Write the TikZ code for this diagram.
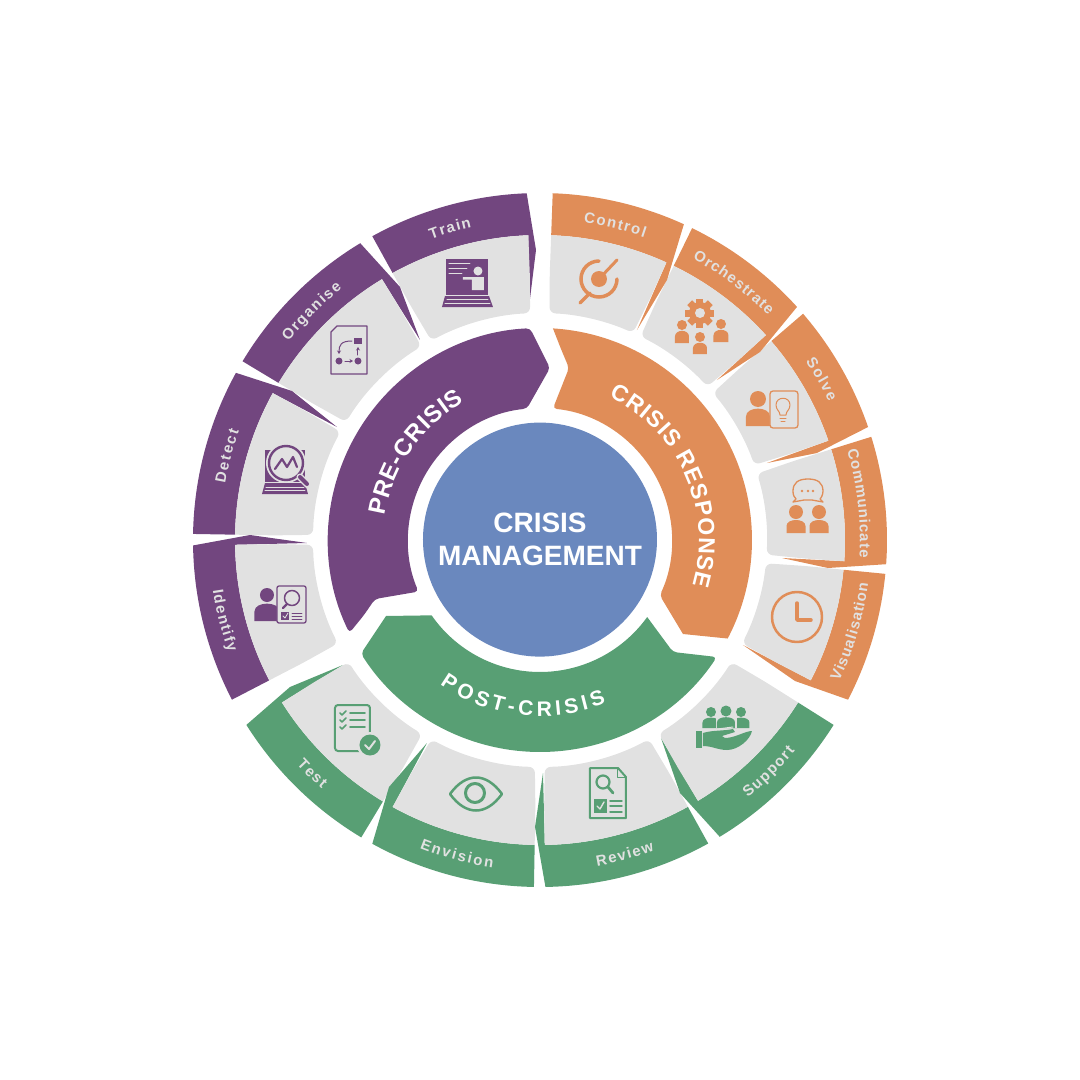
\documentclass[tikz,border=0pt]{standalone}
\usepackage{fontspec}
\setmainfont{Liberation Sans}
\usetikzlibrary{decorations.text,arrows.meta}

\definecolor{precrisis}{HTML}{72467F}
\definecolor{response}{HTML}{E08D58}
\definecolor{postcrisis}{HTML}{589F74}
\definecolor{hubblue}{HTML}{6A88BE}
\definecolor{tilegrey}{HTML}{E1E1E1}

\tikzset{
  px/.style={x=1pt,y=-1pt,shift={(-540pt,540pt)}},
  greyline/.style={tilegrey,line width=1pt},
  thinline/.style={line width=1.3pt},
  arrowline/.style={line width=1pt,-{Stealth[length=3.5pt,width=4pt]}},
}

% colour, low angle, high angle, first and second sliver point
\newcommand{\segment}[5]{
  \fill[#1] (#3:347) arc[start angle=#3,end angle=#2,radius=347] -- #4 -- #5 -- (#2:305) arc[start angle=#2,end angle=#3,radius=305] -- cycle;
  \fill[tilegrey] (#2:266) [rounded corners=6pt] -- (#2+.3:227) arc[start angle=#2+.3,end angle=#3-.3,radius=227] -- (#3:266) [sharp corners] -- (#3:305) arc[start angle=#3,end angle=#2,radius=305] -- cycle;
}
% labels: from angle, to angle, text, letter gap
\newcommand{\toplabel}[4]{
  \path[decorate,decoration={text along path,text align=center,
    text={|\bfseries\fontsize{15}{15}\selectfont\color{tilegrey}\kern#4pt|#3}}]
    (#1:320) arc[start angle=#1,end angle=#2,radius=320];
}
\newcommand{\botlabel}[4]{
  \path[decorate,decoration={text along path,text align=center,
    text={|\bfseries\fontsize{15}{15}\selectfont\color{tilegrey}\kern#4pt|#3}}]
    (#1:331) arc[start angle=#1,end angle=#2,radius=331];
}
% x, head y, head radius, half width, foot y
\newcommand{\iconperson}[5]{
  \fill (#1,#2) circle[radius=#3];
  \fill ({#1-#4},#5) -- ({#1-#4},{#5-(#5-#2-#3)*.5}) .. controls ({#1-#4},{#2+#3-1}) and ({#1+#4},{#2+#3-1}) .. ({#1+#4},{#5-(#5-#2-#3)*.5}) -- ({#1+#4},#5) -- cycle;
}

\begin{document}
\begin{tikzpicture}[x=1pt,y=1pt]
  \useasboundingbox (-540,-540) rectangle (540,540);

  \segment{precrisis}{92.2}{118.9}{(-4,290)}{(-11,233)}
  \segment{precrisis}{121.2}{149}{(-140,253)}{(-120,200)}
  \segment{precrisis}{151.2}{179}{(-248,149)}{(-203,113)}
  \segment{precrisis}{180.9}{207.4}{(-290,5)}{(-233,-3)}
  \segment{postcrisis}{212.2}{239}{(-250,-147)}{(-197,-125)}
  \segment{postcrisis}{241.1}{269}{(-151,-247)}{(-113,-203)}
  \segment{postcrisis}{270.9}{299}{(-5,-287)}{(3,-233)}
  \segment{postcrisis}{301.2}{327.8}{(140,-253)}{(121,-198)}
  \segment{response}{332.6}{354.4}{(255,-141)}{(203,-105)}
  \segment{response}{-4}{17.3}{(288,-28)}{(242,-18)}
  \segment{response}{19}{40.7}{(277,87)}{(227,77)}
  \segment{response}{42.2}{64}{(220,188)}{(177,160)}
  \segment{response}{65.5}{87.9}{(127,260)}{(97,210)}

  \toplabel{119.6}{92.9}{Train}{1.4}
  \toplabel{149}{121.2}{Organise}{1.5}
  \toplabel{179}{151.2}{Detect}{1.6}
  \botlabel{180.9}{207.4}{Identify}{1.6}
  \botlabel{212.2}{239}{Test}{1.4}
  \botlabel{241.1}{269}{Envision}{1.9}
  \botlabel{270.9}{299}{Review}{1.5}
  \botlabel{301.2}{327.8}{Support}{1.5}
  \botlabel{332.6}{354.4}{Visualisation}{.9}
  \toplabel{17.3}{-4}{Communicate}{.9}
  \toplabel{40.7}{19}{Solve}{1.6}
  \toplabel{64}{42.2}{Orchestrate}{1.1}
  \toplabel{87.9}{65.5}{Control}{1.5}

  % middle ring
  \fill[precrisis,rounded corners=4pt] (-176,-75) -- (206:212) arc[start angle=206,end angle=92.7,radius=212] -- (10,172) -- (95.7:132) arc[start angle=95.7,end angle=203,radius=132] -- (-165,-59) -- cycle;
  \fill[response,rounded corners=4pt] (21,191) -- (29,172) -- (84.4:132) arc[start angle=84.4,end angle=-24.8,radius=132] [sharp corners] -- (143,-94) -- (-27.7:212) arc[start angle=-27.7,end angle=86.5,radius=212] [rounded corners=4pt] -- cycle;
  \fill[postcrisis] (-154,-76) -- (214.8:132) arc[start angle=214.8,end angle=324.3,radius=132] [rounded corners=4pt] -- (133,-112) -- (326.5:212) arc[start angle=326.5,end angle=212.4,radius=212] [sharp corners] -- cycle;

  \path[decorate,decoration={text along path,text align=center,
    text={|\bfseries\fontsize{24}{24}\selectfont\color{white}\kern.7pt|PRE-CRISIS}}]
    (175:157) arc[start angle=175,end angle=115,radius=157];
  \path[decorate,decoration={text along path,text align=center,
    text={|\bfseries\fontsize{23}{23}\selectfont\color{white}\kern1pt|CRISIS RESPONSE}}]
    (70:159) arc[start angle=70,end angle=-22,radius=159];
  \path[decorate,decoration={text along path,text align=center,
    text={|\bfseries\fontsize{21}{21}\selectfont\color{white}\kern4pt|POST-CRISIS}}]
    (227:176) arc[start angle=227,end angle=299,radius=176];

  \node[circle,fill=hubblue,minimum size=234pt,inner sep=0pt,text=white,align=center,font=\bfseries\fontsize{28}{33}\selectfont] (hub) at (0,.4) {CRISIS\\MANAGEMENT};

  % control ring sits in the centred frame
  \draw[response,line width=3.5pt,line cap=round] (59,279) arc[start angle=90,end angle=360,radius=18];

  \begin{scope}[px,line cap=round,line join=round]

    % train
    \begin{scope}[color=precrisis]
      \fill (446,259) rectangle (488,295);
      \fill (445,296) -- (489,296) -- (493,307) -- (442,307) -- cycle;
      \draw[greyline] (449,263) -- (470,263) (449,268) -- (467,268) (449,273) -- (462,273);
      \draw[greyline] (447,299) -- (488,299) (445,303) -- (490,303);
      \fill[tilegrey] (478,271) circle[radius=4.5];
      \fill[tilegrey] (463,277) -- (484,277) -- (484,290) -- (472,290) -- (472,279.5) -- (463,279.5) -- cycle;
    \end{scope}

    % organise
    \begin{scope}[color=precrisis]
      \draw[thinline] (337,326) -- (367,326) -- (367,374) -- (331,374) -- (331,332) -- cycle;
      \fill (354,338) rectangle (362,344);
      \draw[arrowline] (352,341) .. controls (341,341) and (339,345) .. (339,354);
      \draw[arrowline] (358,355) -- (358,347);
      \fill (339,361) circle[radius=3.5] (358,361) circle[radius=3.5];
      \draw[arrowline] (345,361) -- (353,361);
    \end{scope}

    % detect
    \begin{scope}[color=precrisis]
      \fill (265,450) rectangle (305,482);
      \fill (265,483) -- (305,483) -- (308,494) -- (262,494) -- cycle;
      \draw[greyline] (266,487) -- (304,487) (265,490) -- (305,490);
      \fill[tilegrey] (286,463) circle[radius=20];
      \draw[line width=2.4pt] (286,463) circle[radius=17];
      \draw[tilegrey,line width=7pt] (300,477) -- (308,485);
      \draw[line width=4pt] (300,477) -- (307,484);
      \draw[line width=2.2pt] (275,469) -- (282,459) -- (287,467) -- (293,457) -- (297,467);
    \end{scope}

    % identify
    \begin{scope}[color=precrisis]
      \iconperson{267}{595}{7}{12.5}{621}
      \draw[thinline,fill=tilegrey,rounded corners=2pt] (277,586) rectangle (306,623);
      \draw[line width=1.5pt] (292,598) circle[radius=7.5];
      \draw[line width=2.2pt] (287,604) -- (283,608);
      \fill (281,612) rectangle (289,620);
      \draw[tilegrey,line width=.8pt] (283,616) -- (285,618) -- (288,613);
      \draw[line width=.9pt] (292,613) -- (302,613) (292,616) -- (302,616) (292,619) -- (302,619);
    \end{scope}

    % test
    \begin{scope}[color=postcrisis]
      \draw[line width=2pt,rounded corners=3pt] (335,705) rectangle (370,751);
      \draw[line width=1.6pt] (340,713) -- (342,715) -- (346,711) (340,720) -- (342,722) -- (346,718) (340,727) -- (342,729) -- (346,725);
      \draw[line width=1.6pt] (350,713) -- (365,713) (350,720) -- (365,720) (350,727) -- (365,727);
      \fill[tilegrey] (370,745) circle[radius=13];
      \fill (370,745) circle[radius=10.5];
      \draw[tilegrey,line width=2pt] (365,745) -- (369,749) -- (375,741);
    \end{scope}

    % envision
    \begin{scope}[color=postcrisis]
      \draw[line width=2.5pt] (450,794) .. controls (466,772) and (486,772) .. (502,794) .. controls (486,816) and (466,816) .. (450,794) -- cycle;
      \draw[line width=3pt] (475,793) circle[radius=9.5];
    \end{scope}

    % review
    \begin{scope}[color=postcrisis]
      \draw[line width=2pt] (590,768) -- (618,768) -- (626,777) -- (626,818) -- (590,818) -- cycle;
      \draw[line width=1pt] (618,768) -- (618,777) -- (626,777);
      \draw[line width=2.2pt] (603,782) circle[radius=6.5];
      \draw[line width=2.8pt] (608,787) -- (613,793);
      \fill (594,799) rectangle (607,813);
      \draw[tilegrey,line width=1.4pt] (597,806) -- (600,809) -- (604,802);
      \draw[line width=1.5pt] (610,801) -- (622,801) (610,806) -- (622,806) (610,812) -- (622,812);
    \end{scope}

    % support
    \begin{scope}[color=postcrisis]
      \iconperson{711}{712}{5}{8.5}{728}
      \iconperson{741}{712}{5}{8.5}{728}
      \fill[tilegrey] (716,728) rectangle (737,717);
      \iconperson{726}{711}{5.5}{9}{728}
      \draw[tilegrey,line width=1pt] (702,731) -- (733,727);
      \fill (696,731) rectangle (702,748);
      \fill (703,733) .. controls (712,730) and (725,731) .. (733,729) -- (735,732) -- (722,736) -- (725,738) .. controls (735,738) and (745,731) .. (752,731) .. controls (750,740) and (738,750) .. (727,750) .. controls (718,750) and (712,746) .. (703,746) -- cycle;
    \end{scope}

    % visualisation
    \begin{scope}[color=response]
      \draw[line width=2.5pt] (797,617) circle[radius=25];
      \draw[line width=3.5pt] (797,603) -- (797,620) -- (811,620);
    \end{scope}

    % communicate
    \begin{scope}[color=response]
      \draw[thinline] (808,479) .. controls (818,479) and (823,483) .. (823,491) .. controls (823,495) and (821,498) .. (820,499) -- (823,502) -- (812,500) -- (804,500) -- (793,502) -- (796,499) .. controls (794,497) and (793,495) .. (793,491) .. controls (793,483) and (798,479) .. (808,479) -- cycle;
      \fill (802,491) circle[radius=1.3] (808,491) circle[radius=1.3] (813,491) circle[radius=1.3];
      \iconperson{796}{512}{7}{9.5}{533}
      \iconperson{819}{512}{7}{9.5}{533}
    \end{scope}

    % solve
    \begin{scope}[color=response]
      \iconperson{758}{399}{8}{12}{426}
      \draw[thinline,fill=tilegrey,rounded corners=3pt] (770,391) rectangle (798,428);
      \draw[line width=1pt] (780,415) .. controls (780,411) and (776,410) .. (776,405) .. controls (776,396) and (790,396) .. (790,405) .. controls (790,410) and (786,411) .. (786,415) -- cycle;
      \draw[line width=1pt] (780,418) -- (786,418) (781,421) -- (785,421);
    \end{scope}

    % orchestrate
    \begin{scope}[color=response]
      \foreach \a in {0,45,...,315}
        \fill[rotate around={\a:(700,313)}] (696.5,298.5) rectangle (703.5,305);
      \fill (700,313) circle[radius=11];
      \fill[tilegrey] (700,313) circle[radius=5];
      \iconperson{682}{325}{5}{7}{343}
      \iconperson{700}{337}{5}{7}{354}
      \iconperson{721}{324}{5}{7.5}{342}
    \end{scope}

    % control
    \begin{scope}[color=response]
      \fill (599,279) circle[radius=8];
      \draw[line width=3pt] (599,279) -- (617,260);
      \draw[line width=3.5pt] (590,293) -- (580,303);
    \end{scope}

  \end{scope}
\end{tikzpicture}
\end{document}
